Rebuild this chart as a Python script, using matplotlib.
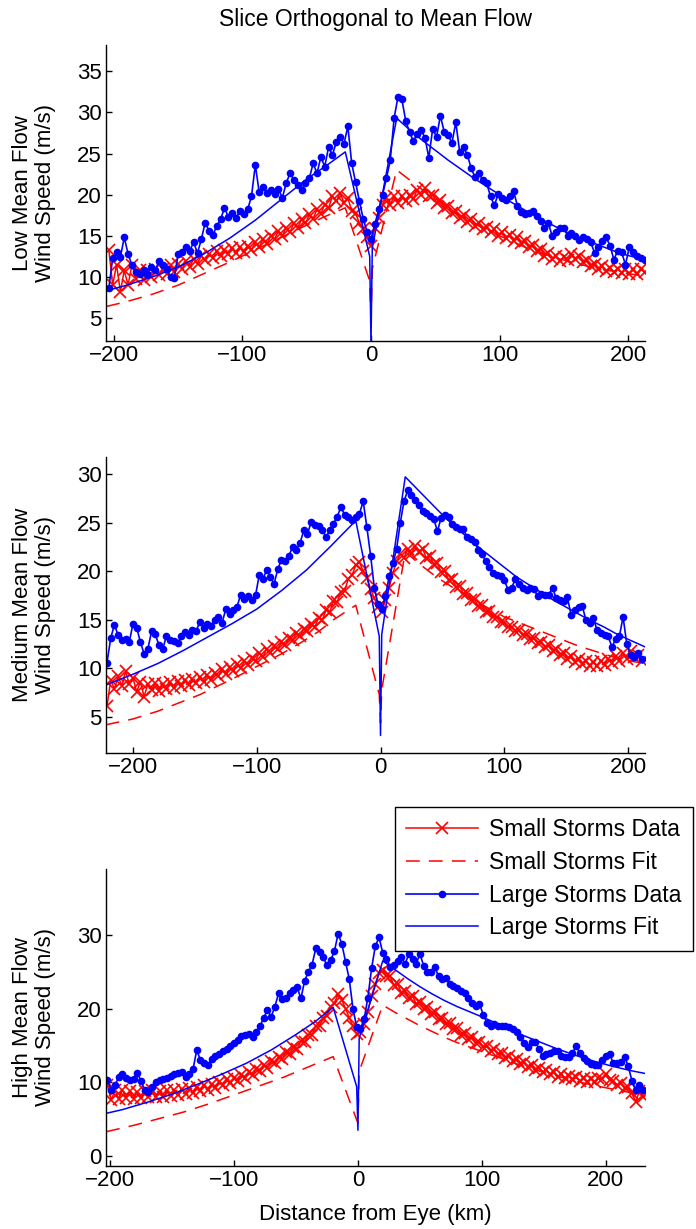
import matplotlib
matplotlib.use('Agg')
import matplotlib.pyplot as plt
import numpy as np

plt.rcParams['font.family'] = ['Liberation Sans', 'DejaVu Sans']

# ---- data (km from eye, wind speed m/s) ----
STEP = 3  # data sampled every 3 km

# Low mean flow
low_x0 = -204
low_small = [13.3, 9.0, 11.5, 8.2, 10.8, 9.0, 11.5, 9.8, 10.8, 9.6,
             10.8, 10.0, 10.9, 10.2, 11.0, 10.4, 11.4, 10.6, 11.6, 11.0,
             11.9, 11.2, 12.2, 11.6, 12.6, 12.0, 12.8, 12.3, 13.1, 12.5,
             13.3, 12.8, 13.5, 12.9, 13.6, 13.0, 13.8, 13.3, 14.2, 13.6,
             14.6, 14.0, 15.0, 14.6, 15.6, 15.0, 16.0, 15.5, 16.5, 16.0,
             17.0, 16.5, 17.6, 17.1, 18.2, 17.7, 18.8, 18.4, 19.8, 19.2,
             20.2, 19.0, 19.6, 18.0, 17.8, 16.5, 15.8, 14.8, 13.8, 16.0,
             17.2, 18.8, 19.6, 18.8, 19.8, 19.0, 19.8, 19.2, 20.0, 19.5,
             20.6, 20.0, 20.8, 19.8, 20.0, 19.0, 19.3, 18.4, 18.6, 17.8,
             18.0, 17.2, 17.5, 16.7, 17.0, 16.2, 16.5, 15.8, 16.1, 15.4,
             15.8, 15.0, 15.4, 14.7, 15.1, 14.4, 14.8, 14.1, 14.4, 13.6,
             13.9, 13.1, 13.4, 12.6, 12.9, 12.2, 12.5, 11.9, 12.4, 12.0,
             12.8, 12.2, 12.6, 11.8, 12.0, 11.3, 11.6, 10.9, 11.3, 10.7,
             11.1, 10.6, 11.0, 10.5, 10.9, 10.4, 10.9, 10.3, 11.0, 10.6]
low_large = [8.6, 12.3, 13.0, 12.4, 14.8, 12.8, 11.4, 10.6, 10.3, 10.8,
             10.4, 11.2, 10.8, 11.9, 11.4, 11.0, 10.0, 9.9, 12.8, 13.0,
             13.6, 13.2, 14.2, 12.9, 14.6, 16.6, 15.6, 15.1, 16.2, 17.0,
             18.4, 17.3, 17.8, 17.2, 18.0, 17.6, 18.2, 19.8, 23.6, 20.3,
             20.9, 20.2, 20.6, 20.1, 20.7, 19.6, 21.4, 22.6, 21.8, 21.2,
             20.6, 21.4, 22.0, 23.8, 22.6, 24.6, 23.4, 25.8, 24.8, 26.4,
             27.0, 26.2, 28.3, 23.8, 21.5, 19.2, 17.0, 15.5, 14.6, 16.4,
             18.2, 20.0, 22.0, 24.2, 29.3, 31.9, 31.6, 29.0, 27.6, 26.5,
             27.4, 27.9, 26.9, 24.5, 28.0, 27.0, 29.6, 27.6, 27.2, 26.3,
             28.8, 25.2, 25.8, 24.8, 23.2, 22.1, 22.6, 21.8, 21.4, 19.8,
             18.7, 20.1, 19.6, 19.4, 19.8, 20.4, 18.6, 17.9, 17.6, 17.8,
             18.0, 17.4, 16.8, 15.9, 16.5, 15.0, 15.4, 15.9, 16.0, 15.0,
             15.3, 15.0, 14.5, 14.8, 14.6, 14.2, 12.9, 13.6, 14.4, 14.8,
             13.8, 12.1, 13.2, 13.0, 11.5, 13.6, 13.0, 12.6, 12.3, 12.0]
low_small_fit_x = [-206, -190, -170, -150, -130, -110, -90, -70, -50, -35, -20, -1, 0, 1,
                   20, 30, 40, 50, 60, 70, 80, 90, 100, 120, 140, 160, 180, 200, 213]
low_small_fit = [6.4, 7.0, 7.9, 9.0, 10.4, 11.8, 13.3, 14.8, 16.3, 17.4, 18.4, 9.5, 5.0, 11.0,
                 23.0, 21.8, 20.6, 19.5, 18.4, 17.4, 16.5, 15.7, 15.0, 13.6, 12.5, 11.6, 10.9, 10.4, 10.1]
low_large_fit_x = [-206, -190, -170, -150, -130, -110, -90, -70, -50, -35, -20, -1, 0, 1,
                   20, 30, 40, 50, 60, 70, 80, 90, 100, 110, 120, 130, 140, 150, 160, 170,
                   180, 190, 200, 213]
low_large_fit = [8.3, 9.0, 10.0, 11.2, 12.8, 14.7, 16.9, 19.4, 21.9, 23.5, 25.2, 12.5, 2.0, 13.5,
                 29.3, 27.9, 26.6, 25.4, 24.2, 23.1, 22.0, 21.0, 20.0, 19.0, 18.1, 17.2, 16.4,
                 15.6, 14.9, 14.3, 13.7, 13.1, 12.6, 12.1]

# Medium mean flow
med_x0 = -221
med_small = [6.1, 8.8, 7.9, 9.2, 8.2, 9.7, 8.4, 9.0, 7.6, 8.6,
             7.1, 8.4, 7.8, 8.5, 7.7, 8.4, 7.9, 8.6, 8.0, 8.7,
             8.2, 8.8, 8.3, 8.9, 8.5, 9.1, 8.6, 9.3, 8.8, 9.5,
             9.2, 9.9, 9.4, 10.1, 9.7, 10.5, 10.0, 10.8, 10.4, 11.1,
             10.8, 11.6, 11.2, 12.0, 11.6, 12.3, 12.0, 12.7, 12.4, 13.1,
             12.9, 13.6, 13.3, 14.1, 13.8, 14.6, 14.3, 15.2, 15.0, 16.0,
             15.8, 16.9, 16.8, 17.9, 18.0, 19.2, 19.6, 20.6, 20.9, 20.0,
             19.3, 18.2, 17.2, 16.3, 15.8, 17.0, 18.3, 19.8, 21.0, 21.8,
             21.4, 22.3, 21.8, 22.6, 22.0, 22.3, 21.4, 21.6, 20.7, 20.8,
             19.9, 20.0, 19.1, 19.2, 18.4, 18.5, 17.7, 17.8, 17.0, 17.1,
             16.4, 16.5, 15.8, 15.9, 15.3, 15.3, 14.8, 14.8, 14.3, 14.3,
             13.8, 13.9, 13.4, 13.5, 13.0, 13.1, 12.6, 12.7, 12.2, 12.4,
             11.8, 12.0, 11.4, 11.6, 11.0, 11.3, 10.7, 11.0, 10.5, 10.8,
             10.3, 10.7, 10.3, 10.8, 10.4, 11.0, 10.6, 11.3, 10.8, 11.6,
             11.0, 11.8, 11.2, 11.4, 10.8]
med_large = [10.6, 13.1, 14.5, 13.4, 12.9, 13.0, 12.7, 14.6, 14.2, 12.7,
             11.5, 12.0, 13.8, 13.5, 12.4, 12.0, 13.3, 12.9, 12.8, 12.6,
             13.3, 13.7, 13.4, 14.0, 13.8, 14.8, 14.2, 14.6, 14.4, 15.0,
             15.3, 14.7, 16.1, 15.6, 16.0, 16.3, 17.6, 17.1, 17.4, 17.0,
             17.5, 19.6, 19.2, 20.1, 19.4, 18.7, 20.2, 21.2, 21.0, 21.6,
             22.5, 22.2, 22.9, 24.2, 23.8, 25.1, 24.8, 24.6, 24.2, 23.5,
             24.2, 24.9, 25.6, 26.6, 25.8, 25.6, 25.3, 25.6, 25.9, 27.2,
             24.5, 21.6, 18.3, 16.6, 16.1, 17.4, 19.5, 20.8, 22.3, 25.0,
             27.2, 28.3, 27.8, 27.3, 26.8, 26.2, 26.0, 25.7, 25.4, 24.1,
             25.5, 25.8, 25.6, 24.9, 24.5, 24.3, 24.3, 23.5, 23.3, 23.0,
             22.2, 21.8, 21.0, 20.4, 19.8, 19.6, 19.5, 19.1, 18.1, 18.3,
             19.2, 18.7, 18.3, 18.1, 18.3, 18.2, 17.4, 17.7, 17.5, 17.6,
             18.3, 17.2, 17.0, 16.9, 17.3, 15.5, 16.0, 16.3, 16.4, 15.0,
             14.7, 15.2, 13.9, 13.6, 13.4, 13.3, 12.2, 13.0, 13.3, 15.3,
             12.5, 11.4, 11.2, 11.6, 11.0]
med_small_fit_x = [-222, -200, -180, -160, -146, -120, -100, -80, -65, -50, -38, -20, -1, 0, 1,
                   20, 30, 40, 50, 60, 70, 80, 90, 100, 110, 120, 130, 140, 150, 160, 170,
                   180, 190, 200, 214]
med_small_fit = [4.2, 4.8, 5.6, 6.6, 7.3, 8.9, 10.2, 11.5, 12.6, 13.8, 15.0, 16.5, 7.3, 4.4, 7.8,
                 22.0, 20.9, 19.9, 19.0, 18.2, 17.4, 16.7, 16.0, 15.3, 14.8, 14.3, 13.8, 13.3,
                 12.8, 12.3, 11.9, 11.5, 11.1, 10.8, 10.5]
med_large_fit_x = [-222, -200, -180, -160, -140, -120, -100, -80, -60, -40, -30, -20, -1, 0, 1,
                   20, 30, 40, 50, 60, 70, 80, 90, 100, 110, 120, 130, 140, 150, 160, 170,
                   180, 190, 200, 214]
med_large_fit = [8.3, 9.4, 10.5, 11.8, 13.2, 14.6, 16.1, 18.0, 20.1, 22.6, 23.9, 25.2, 13.3, 3.1, 13.5,
                 29.7, 28.4, 27.1, 25.8, 24.6, 23.5, 22.4, 21.4, 20.4, 19.4, 18.6, 17.8, 17.0,
                 16.3, 15.6, 14.9, 14.3, 13.6, 13.0, 12.2]

# High mean flow
high_x0 = -202
high_small = [9.6, 7.6, 8.9, 7.8, 9.0, 7.9, 8.8, 7.8, 8.7, 7.9,
              8.8, 8.0, 8.9, 8.0, 8.8, 8.0, 8.9, 8.1, 9.0, 8.3,
              9.1, 8.4, 9.2, 8.6, 9.4, 8.8, 9.6, 9.0, 9.8, 9.3,
              10.1, 9.6, 10.4, 9.9, 10.6, 10.2, 11.0, 10.6, 11.4, 11.0,
              11.8, 11.5, 12.3, 12.0, 12.9, 12.6, 13.5, 13.2, 14.1, 13.9,
              14.8, 14.6, 15.6, 15.5, 16.5, 16.5, 17.6, 17.7, 18.8, 19.0,
              20.2, 20.8, 22.0, 21.2, 20.0, 18.8, 17.6, 16.6, 16.8, 18.0,
              19.6, 21.8, 23.4, 24.8, 25.2, 24.4, 24.4, 23.2, 23.4, 22.2,
              22.4, 21.4, 21.7, 20.7, 20.9, 20.0, 20.2, 19.3, 19.5, 18.6,
              18.8, 17.9, 18.1, 17.2, 17.4, 16.5, 16.7, 15.9, 16.1, 15.3,
              15.5, 14.8, 15.0, 14.3, 14.5, 13.8, 14.0, 13.3, 13.6, 12.9,
              13.2, 12.5, 12.8, 12.1, 12.4, 11.7, 12.0, 11.4, 11.7, 11.1,
              11.4, 10.8, 11.1, 10.6, 10.9, 10.4, 10.7, 10.2, 10.6, 10.1,
              10.5, 10.0, 10.6, 10.4, 11.1, 10.3, 10.2, 9.6, 9.9, 9.2,
              9.4, 8.5, 7.4, 8.8, 8.0]
high_large = [10.3, 9.0, 9.6, 10.7, 11.1, 10.6, 10.3, 10.5, 11.3, 10.2,
              9.0, 8.7, 9.4, 10.0, 10.3, 10.5, 10.6, 10.9, 11.1, 11.3,
              11.4, 10.7, 11.2, 11.8, 14.4, 13.0, 12.6, 12.3, 13.2, 13.6,
              13.9, 14.2, 14.6, 15.0, 15.3, 15.8, 16.3, 16.5, 16.6, 16.2,
              16.9, 17.6, 18.8, 19.8, 18.9, 20.3, 22.1, 21.3, 21.5, 22.1,
              22.5, 22.9, 21.4, 23.8, 25.0, 26.0, 28.2, 27.7, 27.0, 25.9,
              26.6, 27.8, 30.2, 28.8, 26.4, 24.0, 20.0, 17.5, 17.3, 18.6,
              21.5, 25.5, 28.5, 29.7, 27.6, 26.8, 25.7, 26.0, 26.5, 27.0,
              26.1, 27.4, 26.7, 26.1, 27.5, 25.8, 25.0, 25.0, 25.7, 24.4,
              24.0, 24.2, 23.4, 23.1, 22.8, 22.4, 22.1, 21.5, 20.8, 20.4,
              20.7, 19.2, 18.1, 17.6, 18.0, 17.7, 17.6, 17.6, 17.5, 17.2,
              16.9, 16.1, 15.3, 14.8, 15.5, 15.5, 14.6, 13.6, 13.8, 14.0,
              14.2, 14.3, 13.6, 13.4, 13.5, 14.0, 14.9, 14.0, 13.3, 12.9,
              12.5, 12.3, 12.4, 13.0, 13.6, 13.8, 12.6, 12.6, 12.8, 13.5,
              12.2, 10.2, 8.9, 9.7, 9.0]
high_small_fit_x = [-203, -180, -160, -140, -120, -100, -80, -60, -40, -20, -1, 0, 1,
                    20, 30, 40, 50, 60, 70, 80, 90, 100, 115, 130, 145, 160, 175, 190,
                    205, 220, 232]
high_small_fit = [3.3, 4.2, 5.1, 6.0, 7.1, 8.3, 9.5, 10.7, 12.1, 13.5, 4.9, 4.5, 11.5,
                  20.5, 19.5, 18.6, 17.7, 16.9, 16.1, 15.4, 14.8, 14.2, 13.3, 12.4, 11.6,
                  10.9, 10.2, 9.6, 9.1, 8.6, 8.3]
high_large_fit_x = [-203, -190, -170, -150, -130, -110, -90, -70, -50, -35, -20, -1, 0, 1,
                    20, 30, 40, 50, 60, 70, 80, 90, 100, 115, 130, 145, 160, 175, 190,
                    205, 220, 232]
high_large_fit = [5.8, 6.3, 7.3, 8.4, 9.7, 11.1, 12.6, 14.4, 16.5, 18.2, 20.2, 9.4, 3.5, 16.0,
                  26.5, 25.3, 24.1, 23.0, 22.0, 21.1, 20.3, 19.6, 18.9, 17.8, 16.6, 15.6,
                  14.6, 13.7, 12.9, 12.2, 11.6, 11.2]

panel_names = ['Low Mean Flow', 'Medium Mean Flow', 'High Mean Flow']
legend_labels = ['Small Storms Data', 'Small Storms Fit', 'Large Storms Data', 'Large Storms Fit']
xticks = [-200, -100, 0, 100, 200]
yticks = [[5, 10, 15, 20, 25, 30, 35], [5, 10, 15, 20, 25, 30], [0, 10, 20, 30]]
xlims = [(-206.2, 213.2), (-221.8, 213.7), (-203.2, 231.5)]
ylims = [(2.2, 38.2), (1.3, 31.75), (-1.35, 39.0)]

FS = 16
fig = plt.figure(figsize=(6.96, 12.29), dpi=100)
boxes = [[0.1523, 0.7225, 0.7744, 0.2409],
         [0.1523, 0.3873, 0.7744, 0.2409],
         [0.1523, 0.0513, 0.7744, 0.2417]]

panels = [
    (low_x0, low_small, low_large, low_small_fit_x, low_small_fit, low_large_fit_x, low_large_fit),
    (med_x0, med_small, med_large, med_small_fit_x, med_small_fit, med_large_fit_x, med_large_fit),
    (high_x0, high_small, high_large, high_small_fit_x, high_small_fit, high_large_fit_x, high_large_fit),
]

handles = None
for i, (x0, small, large, sfx, sfy, lfx, lfy) in enumerate(panels):
    ax = fig.add_axes(boxes[i])
    xs = x0 + STEP * np.arange(len(small))
    xl = x0 + STEP * np.arange(len(large))
    h1, = ax.plot(xs, small, color='red', lw=1.1, marker='x', ms=8.5, mew=1.2)
    h2, = ax.plot(sfx, sfy, color='red', lw=1.1, linestyle=(0, (9, 6)))
    h3, = ax.plot(xl, large, color='blue', lw=1.2, marker='.', ms=9)
    h4, = ax.plot(lfx, lfy, color='blue', lw=1.1)
    handles = [h1, h2, h3, h4]

    ax.set_xlim(*xlims[i])
    ax.set_ylim(*ylims[i])
    ax.set_xticks(xticks)
    ax.set_yticks(yticks[i])
    ax.spines['top'].set_visible(False)
    ax.spines['right'].set_visible(False)
    for s in ('left', 'bottom'):
        ax.spines[s].set_linewidth(1.0)
    ax.tick_params(direction='in', length=4, width=1.0, labelsize=FS, pad=3)
    ax.set_ylabel(panel_names[i] + '\nWind Speed (m/s)', fontsize=FS, linespacing=1.15)
    ax.yaxis.set_label_coords(-0.092, 0.5)
    if i == 0:
        ax.set_title('Slice Orthogonal to Mean Flow', fontsize=16.5, pad=14)
    if i == 2:
        ax.set_xlabel('Distance from Eye (km)', fontsize=FS, labelpad=9)

leg = fig.legend(handles, legend_labels, loc='upper left',
                 bbox_to_anchor=(395 / 696, 1 - 807 / 1229), bbox_transform=fig.transFigure,
                 fontsize=16.5, frameon=True, fancybox=False, framealpha=1,
                 edgecolor='black', handlelength=3.1, handletextpad=0.5,
                 labelspacing=0.42, borderpad=0.5, borderaxespad=0)
leg.get_frame().set_linewidth(1.0)

plt.savefig('out.png', dpi=100)
